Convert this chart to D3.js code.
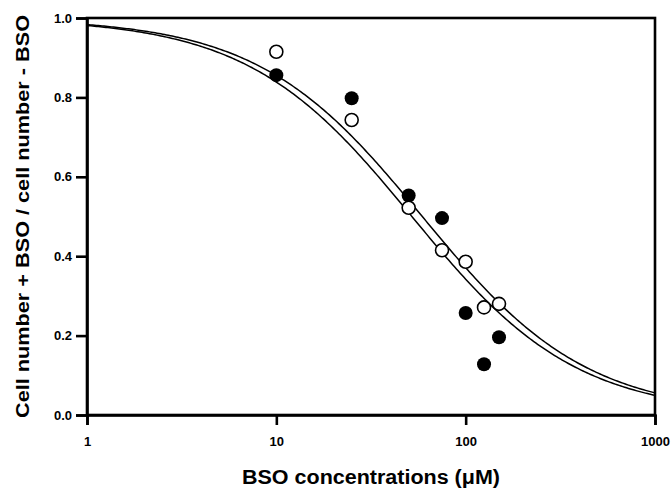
<!DOCTYPE html>
<html>
<head>
<meta charset="utf-8">
<script src="https://d3js.org/d3.v7.min.js"></script>
<style>
  * { margin:0; padding:0; }
  body { background:#fff; width:672px; height:489px; overflow:hidden; }
  svg { display:block; font-family:'Liberation Sans', Arial, sans-serif; }
</style>
</head>
<body>
<svg id="chart" width="672" height="489"></svg>
<script>
// ── Data ─────────────────────────────────────────────────────────────────────
var concentrations = [10, 25, 50, 75, 100, 125, 150];          // BSO, µM
var filledValues   = [0.856, 0.798, 0.553, 0.496, 0.257, 0.128, 0.196];
var openValues     = [0.915, 0.743, 0.522, 0.415, 0.386, 0.271, 0.280];

// fitted dose-response curves: y = 1 / (1 + (x / ic50) ^ hill)
var fitIC50 = [59, 52];
var fitHill = [1.0, 1.0];

var xTicks = [1, 10, 100, 1000];
var yTicks = [0, 0.2, 0.4, 0.6, 0.8, 1.0];

// ── Layout ───────────────────────────────────────────────────────────────────
var plotLeft = 87, plotRight = 655, plotTop = 18, plotBottom = 415;

var svg = d3.select("#chart");

var x = d3.scaleLog().domain([1, 1000]).range([plotLeft, plotRight]);
var y = d3.scaleLinear().domain([0, 1]).range([plotBottom, plotTop]);

// frame
svg.append("rect")
  .attr("x", plotLeft).attr("y", plotTop)
  .attr("width", plotRight - plotLeft).attr("height", plotBottom - plotTop)
  .attr("fill", "none").attr("stroke", "#000").attr("stroke-width", 2.6);

// axes
var xAxis = svg.append("g")
  .attr("transform", "translate(0," + plotBottom + ")")
  .call(d3.axisBottom(x).tickValues(xTicks).tickFormat(d3.format("d"))
    .tickSize(10).tickPadding(12));

var yAxis = svg.append("g")
  .attr("transform", "translate(" + plotLeft + ",0)")
  .call(d3.axisLeft(y).tickValues(yTicks).tickFormat(d3.format(".1f"))
    .tickSize(11).tickPadding(4));

[xAxis, yAxis].forEach(function(g) {
  g.attr("font-size", 13).attr("font-family", "'Liberation Sans', Arial, sans-serif");
  g.select(".domain").attr("stroke-width", 2.6);
  g.selectAll(".tick line").attr("stroke-width", 2.6);
  g.selectAll(".tick text").attr("font-weight", "bold").attr("fill", "#000");
});

// fitted curves
var curveX = d3.range(0, 3.0001, 0.01).map(function(e) { return Math.pow(10, e); });
var line = d3.line()
  .x(function(d) { return x(d[0]); })
  .y(function(d) { return y(d[1]); });

fitIC50.forEach(function(c, i) {
  var h = fitHill[i];
  var pts = curveX.map(function(v) { return [v, 1 / (1 + Math.pow(v / c, h))]; });
  svg.append("path")
    .attr("d", line(pts))
    .attr("fill", "none").attr("stroke", "#000").attr("stroke-width", 1.5);
});

// data points
svg.selectAll(".filled")
  .data(concentrations.map(function(c, i) { return [c, filledValues[i]]; }))
  .join("circle")
  .attr("class", "filled")
  .attr("cx", function(d) { return x(d[0]); })
  .attr("cy", function(d) { return y(d[1]); })
  .attr("r", 7).attr("fill", "#000");

svg.selectAll(".open")
  .data(concentrations.map(function(c, i) { return [c, openValues[i]]; }))
  .join("circle")
  .attr("class", "open")
  .attr("cx", function(d) { return x(d[0]); })
  .attr("cy", function(d) { return y(d[1]); })
  .attr("r", 6.5).attr("fill", "#fff").attr("stroke", "#000").attr("stroke-width", 1.6);

// axis titles
svg.append("text")
  .attr("x", (plotLeft + plotRight) / 2).attr("y", 484)
  .attr("text-anchor", "middle")
  .attr("font-size", 20).attr("font-weight", "bold")
  .attr("textLength", 258).attr("lengthAdjust", "spacingAndGlyphs")
  .text("BSO concentrations (\u03bcM)");

svg.append("text")
  .attr("transform", "translate(29," + ((plotTop + plotBottom) / 2) + ") rotate(-90)")
  .attr("text-anchor", "middle")
  .attr("font-size", 19).attr("font-weight", "bold")
  .attr("textLength", 403).attr("lengthAdjust", "spacingAndGlyphs")
  .text("Cell number + BSO / cell number - BSO");
</script>
</body>
</html>
